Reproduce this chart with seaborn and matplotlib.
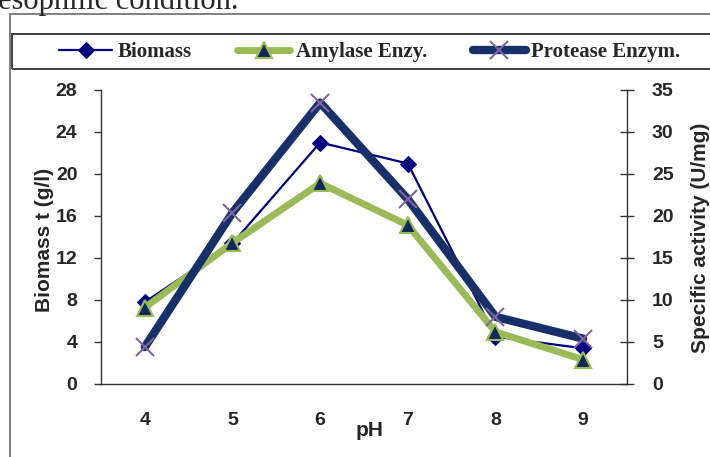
import numpy as np
import pandas as pd
import matplotlib
matplotlib.use("Agg")
import matplotlib.pyplot as plt
from matplotlib.patches import Rectangle
from matplotlib.ticker import FixedLocator, MultipleLocator
import seaborn as sns

# ---- data ----
ph = ["4", "5", "6", "7", "8", "9"]
biomass = [7.8, 13.4, 23.0, 21.0, 4.5, 3.4]          # left axis, g/l
amylase = [9.1, 16.8, 23.9, 18.9, 6.2, 2.9]          # right axis, U/mg
protease = [4.4, 20.4, 33.5, 22.0, 8.0, 5.4]         # right axis, U/mg
left_ticks = [0, 4, 8, 12, 16, 20, 24, 28]
right_ticks = [0, 5, 10, 15, 20, 25, 30, 35]

sns.set_style("white")
plt.rcParams["font.family"] = ["Liberation Sans", "DejaVu Sans"]

W, H = 710, 457
fig = plt.figure(figsize=(W / 100, H / 100), dpi=100)
L, R, T, B = 101, 627, 90, 384
ax = fig.add_axes([L / W, 1 - B / H, (R - L) / W, (B - T) / H])
ax2 = ax.twinx()
ax.set_zorder(1)
ax2.set_zorder(2)
ax.patch.set_visible(False)
ax2.patch.set_visible(False)

df = pd.DataFrame({"pH": ph, "Biomass": biomass, "Amylase": amylase, "Protease": protease})

navy = "#000080"
green = "#9BBB59"
dark = "#17306A"
purple = "#8064A2"

sns.lineplot(data=df, x="pH", y="Biomass", ax=ax, sort=False, errorbar=None,
             color=navy, linewidth=1.6, marker="D", markersize=8,
             markerfacecolor=navy, markeredgecolor=navy, label="Biomass", legend=False)
sns.lineplot(data=df, x="pH", y="Amylase", ax=ax2, sort=False, errorbar=None,
             color=green, linewidth=5, marker="^", markersize=12,
             markerfacecolor="#10285A", markeredgecolor=green, markeredgewidth=1.5,
             label="Amylase Enzy.", legend=False)
sns.lineplot(data=df, x="pH", y="Protease", ax=ax2, sort=False, errorbar=None,
             color=dark, linewidth=6, marker="x", markersize=13,
             markeredgecolor=purple, markeredgewidth=1.5,
             label="Protease Enzym.", legend=False)

for a in (ax, ax2):
    a.set_xlim(-0.5, 5.5)
ax.set_ylim(0, 28)
ax2.set_ylim(0, 35)
ax.yaxis.set_major_locator(FixedLocator(left_ticks))
ax2.yaxis.set_major_locator(FixedLocator(right_ticks))

# spines
for a in (ax, ax2):
    a.spines["top"].set_visible(False)
    for s in ("left", "right", "bottom"):
        a.spines[s].set_color("#333333")
        a.spines[s].set_linewidth(1.0)
ax.spines["right"].set_visible(False)
ax2.spines["left"].set_visible(False)
ax2.spines["bottom"].set_visible(False)

tickfont = dict(fontsize=14, fontweight="bold")
ax.set_xticks(range(len(ph)))
ax.set_xticklabels(ph, **tickfont)
ax.xaxis.set_minor_locator(FixedLocator(np.arange(-0.5, 6, 1.0)))
ax.tick_params(axis="x", which="major", length=0, pad=20)
ax.tick_params(axis="x", which="minor", length=5, width=1, color="#333333", direction="out")
ax.tick_params(axis="y", which="major", length=5, width=1, color="#333333", direction="out", pad=12, left=True)
ax2.tick_params(axis="y", which="major", length=10, width=1, color="#333333", direction="inout", pad=13, right=True)
for lab in ax.get_yticklabels() + ax2.get_yticklabels():
    lab.set_fontsize(14)
    lab.set_fontweight("bold")

ax.set_xlabel("pH", fontsize=15, fontweight="bold")
ax.xaxis.set_label_coords((370 - L) / (R - L), -(421 - B) / (B - T))
ax.xaxis.label.set_va("top")
ax.set_ylabel("Biomass t (g/l)", fontsize=15, fontweight="bold")
ax.yaxis.set_label_coords((45 - L) / (R - L), (B - 240) / (B - T))
ax.yaxis.label.set_va("center")
ax2.set_ylabel("Specific activity (U/mg)", fontsize=15, fontweight="bold", rotation=90)
ax2.yaxis.set_label_coords((701 - L) / (R - L), (B - 238) / (B - T))
ax2.yaxis.label.set_va("center")

# legend
h1, l1 = ax.get_legend_handles_labels()
h2, l2 = ax2.get_legend_handles_labels()
fig.legend(h1 + h2, l1 + l2, loc="center left", bbox_to_anchor=(59 / W, 1 - 52 / H),
           ncol=3, frameon=False, borderaxespad=0, borderpad=0,
           handlelength=2.55, handletextpad=0.25, columnspacing=2.2,
           prop=dict(family=["Liberation Serif", "DejaVu Serif"], weight="bold", size=15))

# frames
fig.add_artist(Rectangle((12 / W, 1 - 69 / H), 1.2, 35 / H, transform=fig.transFigure,
                         fill=False, edgecolor="#404040", linewidth=1.4, clip_on=False))
fig.add_artist(Rectangle((10 / W, -0.2), 1.2, 1.2 - 14 / H, transform=fig.transFigure,
                         fill=False, edgecolor="#808080", linewidth=1.4, clip_on=False))

fig.text(-2 / W, 1 - 9 / H, "esophilic condition.", fontsize=22, va="baseline", ha="left",
         family=["Liberation Serif", "DejaVu Serif"])

fig.savefig("out.png", dpi=100)
